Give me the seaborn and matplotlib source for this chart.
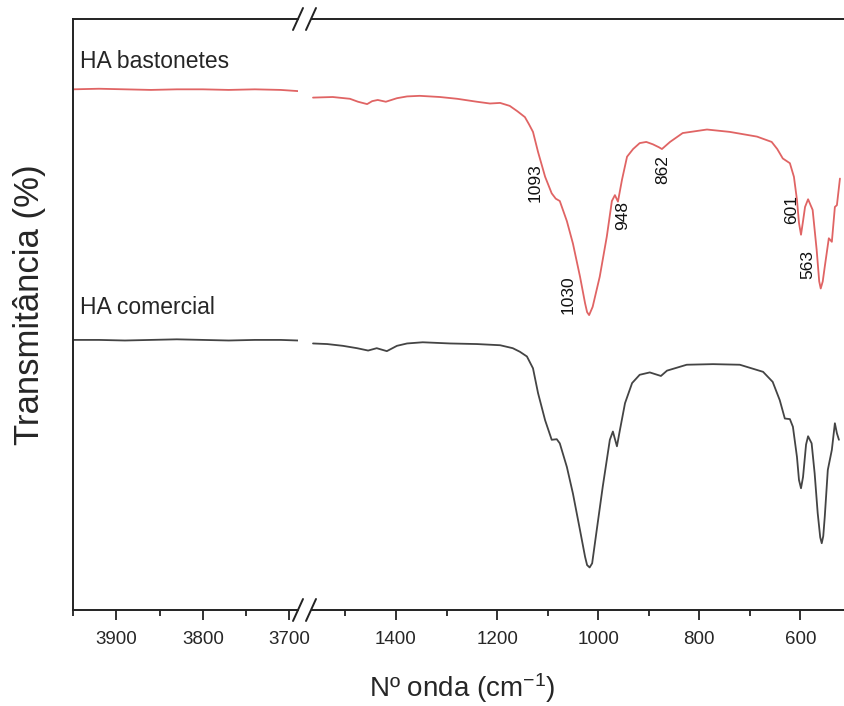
import matplotlib
matplotlib.use("Agg")
import matplotlib.pyplot as plt
from matplotlib.lines import Line2D
from matplotlib.ticker import FixedLocator
import pandas as pd
import seaborn as sns

# ---- FTIR spectra: wavenumber (cm-1) and transmittance (%) ----
# high-wavenumber window (left of the axis break)
wn_high = [3950, 3920, 3890, 3860, 3830, 3800, 3770, 3740, 3710, 3690]
bast_high = [88.1, 88.2, 88.1, 88.0, 88.1, 88.1, 88.0, 88.1, 88.0, 87.8]
com_high = [45.7, 45.7, 45.6, 45.7, 45.8, 45.7, 45.6, 45.7, 45.7, 45.6]

# fingerprint window, HA bastonetes
wn_bast = [1564, 1525, 1491, 1475, 1457, 1447, 1436, 1420, 1398, 1378, 1353,
           1313, 1279, 1240, 1214, 1194, 1175, 1160, 1145, 1137, 1129, 1119,
           1105, 1092, 1084, 1076, 1062, 1050, 1036, 1026, 1022, 1018, 1011,
           997, 983, 973, 967, 961, 953, 943, 931, 918, 905, 892, 880, 874,
           866, 858, 833, 785, 740, 686, 657, 646, 635, 621, 613, 607, 603,
           599, 595, 591, 585, 576, 568, 563, 560, 556, 552, 544, 538, 532,
           528, 522]
t_bast = [86.7, 86.8, 86.5, 86.0, 85.6, 86.1, 86.3, 86.0, 86.6, 86.9, 87.0,
          86.8, 86.5, 86.0, 85.7, 85.8, 85.3, 84.4, 83.4, 82.2, 80.9, 77.5,
          73.3, 70.5, 69.6, 69.2, 65.8, 62.0, 56.4, 51.9, 50.4, 49.9, 51.3,
          56.4, 63.2, 69.2, 70.2, 69.1, 72.8, 76.7, 78.0, 79.0, 79.2, 78.8,
          78.3, 78.0, 78.6, 79.2, 80.7, 81.3, 80.9, 80.1, 79.2, 78.0, 76.4,
          75.6, 73.3, 69.4, 65.5, 63.5, 65.8, 68.2, 69.5, 67.7, 60.9, 55.6,
          54.4, 55.6, 58.1, 62.9, 62.3, 68.2, 68.5, 73.0]

# fingerprint window, HA comercial
wn_com = [1564, 1536, 1505, 1477, 1455, 1438, 1418, 1398, 1378, 1347, 1293,
          1240, 1194, 1169, 1155, 1141, 1129, 1119, 1105, 1092, 1082, 1076,
          1062, 1050, 1036, 1026, 1022, 1017, 1012, 1003, 991, 977, 971, 963,
          957, 947, 933, 918, 898, 876, 864, 825, 773, 720, 674, 655, 641,
          631, 621, 615, 607, 603, 599, 595, 589, 585, 578, 572, 566, 561,
          558, 555, 552, 546, 538, 532, 528, 524]
t_com = [45.1, 45.0, 44.7, 44.3, 43.9, 44.3, 43.8, 44.7, 45.1, 45.3, 45.1,
         45.0, 44.8, 44.3, 43.7, 42.9, 40.9, 36.7, 32.1, 28.8, 28.9, 28.2,
         24.2, 19.7, 13.5, 9.0, 7.6, 7.2, 7.9, 13.5, 20.9, 28.8, 30.2, 27.7,
         30.5, 35.0, 38.4, 39.8, 40.2, 39.6, 40.5, 41.5, 41.6, 41.5, 40.3,
         38.6, 35.5, 32.4, 32.3, 31.0, 25.9, 22.0, 20.6, 22.5, 28.0, 29.4,
         28.2, 23.1, 16.4, 12.3, 11.3, 12.5, 15.8, 23.7, 27.1, 31.6, 29.9,
         28.8]

# assigned bands of HA bastonetes
peak_labels = ["1093", "1030", "948", "862", "601", "563"]

sample_names = ["HA bastonetes", "HA comercial"]
colors = {"HA bastonetes": "#e06464", "HA comercial": "#444444"}

# ---- style ----
sns.set_style("ticks")
plt.rcParams["font.family"] = ["Liberation Sans", "DejaVu Sans"]
plt.rcParams["mathtext.fontset"] = "custom"
plt.rcParams["mathtext.rm"] = "Liberation Sans"
plt.rcParams["mathtext.it"] = "Liberation Sans:italic"

W, H = 845, 706
fig = plt.figure(figsize=(W / 100, H / 100), dpi=100)


def px_rect(x0, x1, y0, y1):
    return [x0 / W, 1 - y1 / H, (x1 - x0) / W, (y1 - y0) / H]


ax_l = fig.add_axes(px_rect(73, 298, 19, 610))
ax_r = fig.add_axes(px_rect(312, 845, 19, 610))

high = pd.DataFrame({"wn": wn_high * 2,
                     "T": bast_high + com_high,
                     "amostra": [sample_names[0]] * len(wn_high) + [sample_names[1]] * len(wn_high)})
low = pd.DataFrame({"wn": wn_bast + wn_com,
                    "T": t_bast + t_com,
                    "amostra": [sample_names[0]] * len(wn_bast) + [sample_names[1]] * len(wn_com)})

for ax, df in ((ax_l, high), (ax_r, low)):
    for name in sample_names:
        sub = df[df["amostra"] == name]
        sns.lineplot(data=sub, x="wn", y="T", ax=ax, color=colors[name],
                     lw=1.3, sort=False, estimator=None, legend=False)
    ax.set_ylim(0, 100)
    ax.set_xlabel("")
    ax.set_ylabel("")
    ax.set_yticks([])
    for s in ax.spines.values():
        s.set_linewidth(1.4)
        s.set_color("#222222")
    ax.spines["right"].set_visible(False)
    ax.tick_params(axis="x", which="major", direction="out", length=7, width=1.3,
                   labelsize=13.5, pad=8, color="#222222")
    ax.tick_params(axis="x", which="minor", direction="out", length=4, width=1.3,
                   color="#222222")

ax_r.spines["left"].set_visible(False)

ax_l.set_xlim(3950, 3690)
ax_l.xaxis.set_major_locator(FixedLocator([3900, 3800, 3700]))
ax_l.xaxis.set_minor_locator(FixedLocator([3950, 3850, 3750]))

ax_r.set_xlim(1566, 512)
ax_r.xaxis.set_major_locator(FixedLocator([1400, 1200, 1000, 800, 600]))
ax_r.xaxis.set_minor_locator(FixedLocator([1500, 1300, 1100, 900, 700]))

# band labels (rotated), anchored at the band wavenumber
label_y = {"1093": 72.3, "1030": 53.3, "948": 66.8, "862": 74.5, "601": 67.7, "563": 58.4}
label_dx = {"1093": -16, "1030": -15, "948": -2, "862": -5, "601": -8, "563": -11}
for lab in peak_labels:
    ax_r.annotate(lab, xy=(float(lab), label_y[lab]), xytext=(label_dx[lab] * 0.72, 0),
                  textcoords="offset points", rotation=90, ha="center", va="center",
                  fontsize=12.5, color="#111111")

# sample names
fig.text(80 / W, 1 - 62 / H, "HA bastonetes", fontsize=16.5, ha="left", va="center")
fig.text(80 / W, 1 - 308 / H, "HA comercial", fontsize=16.5, ha="left", va="center")

# axis titles
fig.text(30 / W, 1 - 305 / H, "Transmitância (%)", rotation=90, fontsize=25,
         ha="center", va="center")
fig.text(462 / W, 1 - 688 / H, "Nº onda (cm$^{-1}$)", fontsize=20,
         ha="center", va="center")

# axis-break marks on top and bottom spines
for y_sp in (19, 610):
    for xc in (298, 311):
        xs = [(xc - 5) / W, (xc + 5) / W]
        ys = [1 - (y_sp + 11) / H, 1 - (y_sp - 11) / H]
        fig.add_artist(Line2D(xs, ys, transform=fig.transFigure, color="#222222", lw=1.4))

fig.savefig("out.png", dpi=100)
